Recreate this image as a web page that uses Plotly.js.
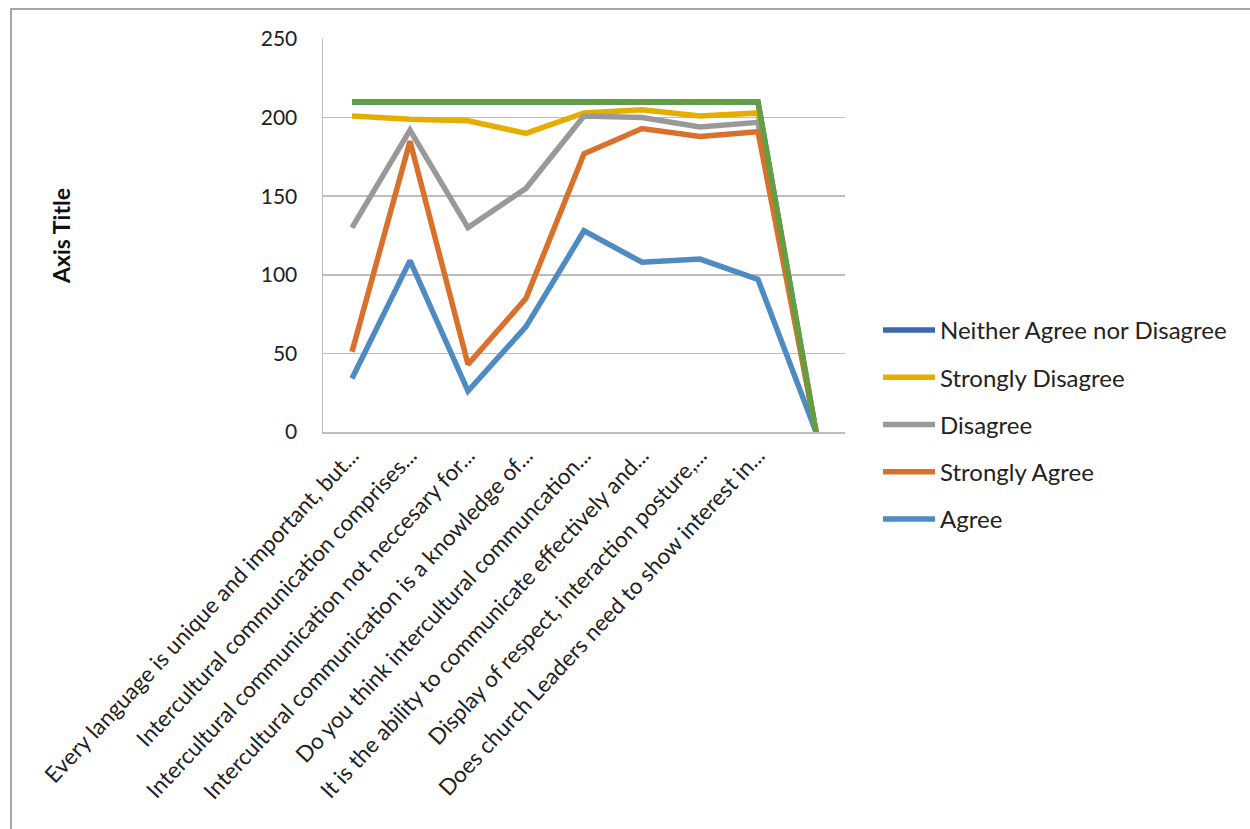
<!DOCTYPE html>
<html>
<head>
<meta charset="utf-8">
<script src="https://cdn.plot.ly/plotly-3.0.1.min.js"></script>
<style>html,body{margin:0;padding:0;background:#fff;}#chart{width:1250px;height:829px;}</style>
</head>
<body>
<div id="chart"></div>
<script>
const categories = [
  "Every language is unique and important, but...",
  "Intercultural communication comprises...",
  "Intercultural communication not neccesary for...",
  "Intercultural communication is a knowledge of...",
  "Do you think intercultural communcation...",
  "It is the ability to communicate effectively and...",
  "Display of respect, interaction posture,...",
  "Does church Leaders need to show interest in...",
  ""
];
const neither = [210, 210, 210, 210, 210, 210, 210, 210, 0];
const stronglyDisagree = [201, 199, 198, 190, 203, 205, 201, 203, 0];
const disagree = [130, 192, 130, 155, 201, 200, 194, 197, 0];
const stronglyAgree = [51, 185, 43, 85, 177, 193, 188, 191, 0];
const agree = [34, 109, 26, 67, 128, 108, 110, 97, 0];
const total = [210, 210, 210, 210, 210, 210, 210, 210, 0];
const yTicks = [0, 50, 100, 150, 200, 250];

const xIdx = categories.map((c, i) => i);
const FONT = "Lato, 'Liberation Sans', sans-serif";

function tr(name, y, color, show, grp) {
  return {x: xIdx, y: y, name: name, type: 'scatter', mode: 'lines',
    line: {color: color, width: 5.5}, showlegend: show, legendgroup: grp};
}

const data = [
  tr('Neither Agree nor Disagree', neither, '#3F66B2', true, 'g1'),
  tr('Strongly Disagree', stronglyDisagree, '#E5AD00', true, 'g2'),
  tr('Disagree', disagree, '#999999', true, 'g3'),
  tr('Strongly Agree', stronglyAgree, '#D9712D', true, 'g4'),
  tr('Agree', agree, '#4F8BC3', true, 'g5'),
  tr('Total', total, '#639E40', false, 'g6')
];

const L = 323, R = 845, T = 39, B = 432;
const pw = R - L, ph = B - T;
const px = v => (v - L) / pw;
const py = v => (B - v) / ph;

const layout = {
  width: 1250, height: 829,
  margin: {l: L, r: 1250 - R, t: T, b: 829 - B, autoexpand: false},
  paper_bgcolor: '#ffffff', plot_bgcolor: '#ffffff',
  font: {family: FONT, size: 21, color: '#222222'},
  showlegend: true,
  legend: {x: px(878), y: py(308), xanchor: 'left', yanchor: 'top',
    font: {family: FONT, size: 24, color: '#222222'},
    itemwidth: 52,
    traceorder: 'grouped', tracegroupgap: 13, bgcolor: 'rgba(0,0,0,0)'},
  xaxis: {
    type: 'linear', range: [-0.5, 8.5], tickvals: xIdx, ticktext: categories,
    tickangle: -47, showgrid: false, zeroline: false,
    showline: true, linecolor: '#bdbdbd', linewidth: 1.5, ticks: '',
    tickfont: {family: FONT, size: 22.5, color: '#222222'}, automargin: false
  },
  yaxis: {
    range: [0, 250], tickvals: yTicks, ticktext: yTicks.map(String),
    showgrid: true, gridcolor: '#bdbdbd', gridwidth: 1.5, zeroline: false,
    showline: true, linecolor: '#bdbdbd', linewidth: 1.5, ticks: '',
    ticklabelstandoff: 20,
    tickfont: {family: FONT, size: 21, color: '#222222'}, automargin: false,
    title: {text: '<b>Axis Title</b>', font: {family: FONT, size: 23, color: '#111111'}, standoff: 183}
  },
  shapes: [{type: 'rect', xref: 'paper', yref: 'paper',
    x0: px(11), x1: px(1270), y0: py(850), y1: py(9),
    line: {color: '#a6a6a6', width: 2}, fillcolor: 'rgba(0,0,0,0)', layer: 'below'}]
};

Plotly.newPlot('chart', data, layout, {displayModeBar: false, staticPlot: true});
</script>
</body>
</html>
